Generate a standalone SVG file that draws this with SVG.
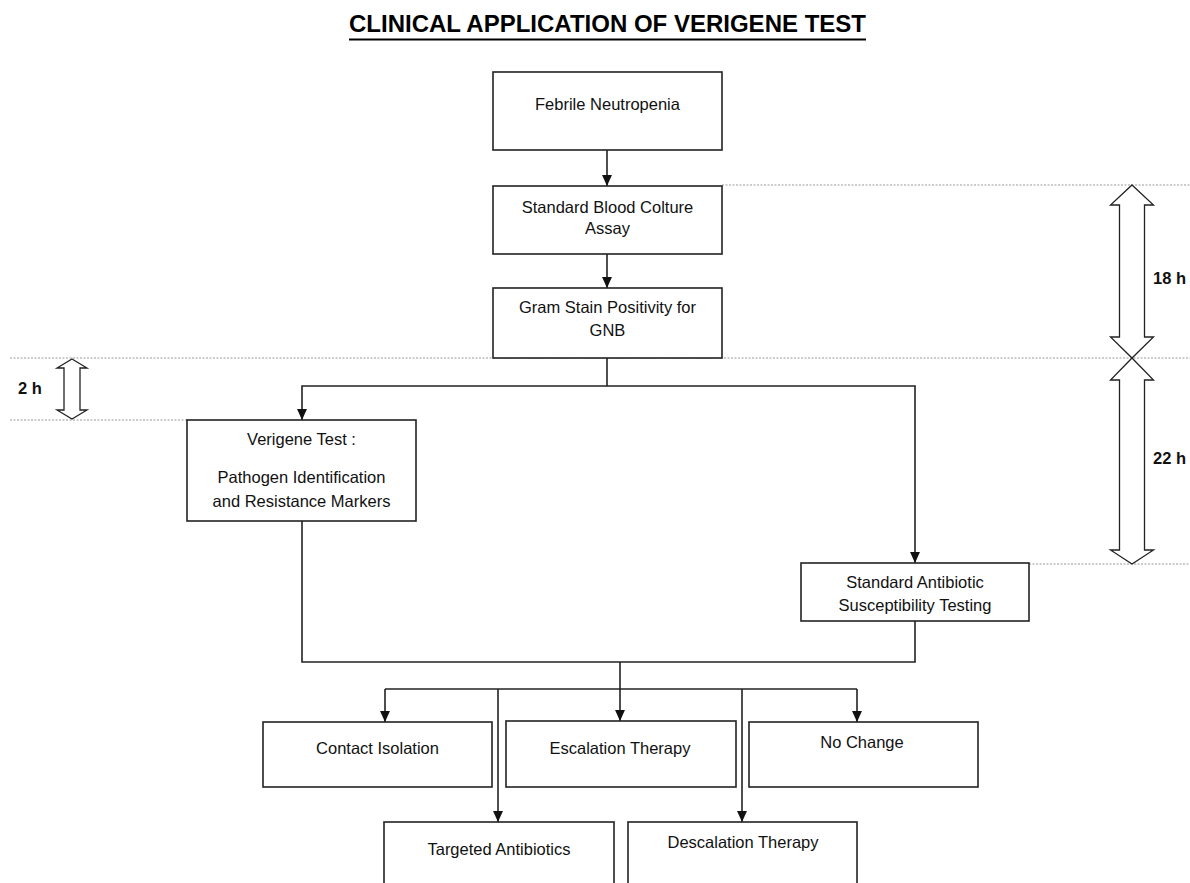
<svg xmlns="http://www.w3.org/2000/svg" width="1190" height="883" viewBox="0 0 1190 883">
<defs>
<style>
.box{fill:#fff;stroke:#222;stroke-width:1.6}
.t{font-family:"Liberation Sans",Arial,sans-serif;font-size:16.5px;fill:#111;text-anchor:middle}
.b{font-family:"Liberation Sans",Arial,sans-serif;font-size:16.5px;font-weight:bold;fill:#111;text-anchor:middle}
.ln{fill:none;stroke:#222;stroke-width:1.6}
.arr{fill:none;stroke:#222;stroke-width:1.6;marker-end:url(#ah)}
.dot{stroke:#9a9a9a;stroke-width:1.2;stroke-dasharray:2 1.5;fill:none}
.dbl{fill:#fff;stroke:#222;stroke-width:1.3;stroke-linejoin:miter}
</style>
<marker id="ah" markerWidth="11" markerHeight="11" viewBox="0 0 10 10" refX="10" refY="5" orient="auto" markerUnits="userSpaceOnUse">
<path d="M0,0.5 L10,5 L0,9.5 Z" fill="#111"/>
</marker>
</defs>
<rect width="1190" height="883" fill="#fff"/>

<g id="title">
<text x="607.5" y="32" font-family="'Liberation Sans',Arial,sans-serif" font-size="24" font-weight="bold" fill="#000" text-anchor="middle" textLength="517" lengthAdjust="spacingAndGlyphs">CLINICAL APPLICATION OF VERIGENE TEST</text>
<line x1="349" y1="39.5" x2="866" y2="39.5" stroke="#000" stroke-width="2"/>
</g>

<g id="guides">
<line class="dot" x1="722" y1="185" x2="1190" y2="185"/>
<line class="dot" x1="10" y1="358" x2="1190" y2="358"/>
<line class="dot" x1="10" y1="420" x2="187" y2="420"/>
<line class="dot" x1="1029" y1="564" x2="1190" y2="564"/>
</g>

<g id="time-2h">
<polygon class="dbl" points="72,359 87,368 80,368 80,410 87,410 72,419 57,410 64,410 64,368 57,368"/>
<text class="b" x="30" y="394">2 h</text>
</g>
<g id="time-18h">
<polygon class="dbl" points="1132,185 1153.5,205 1144.5,205 1144.5,337 1153.5,337 1132,358 1110.5,337 1119.5,337 1119.5,205 1110.5,205"/>
<text class="b" x="1169.5" y="284">18 h</text>
</g>
<g id="time-22h">
<polygon class="dbl" points="1132,358 1153.5,380 1144.5,380 1144.5,550 1153.5,550 1132,564 1110.5,550 1119.5,550 1119.5,380 1110.5,380"/>
<text class="b" x="1169.5" y="464">22 h</text>
</g>

<g id="connectors">
<line class="arr" x1="607" y1="150" x2="607" y2="186"/>
<line class="arr" x1="607" y1="254" x2="607" y2="288"/>
<polyline class="ln" points="607,358 607,386"/>
<polyline class="arr" points="607,386 302,386 302,420"/>
<polyline class="arr" points="607,386 915,386 915,563"/>
<polyline class="ln" points="302,521 302,662 915,662 915,621"/>
<line class="arr" x1="620" y1="662" x2="620" y2="721"/>
<line class="ln" x1="385" y1="689" x2="857" y2="689"/>
<polyline class="arr" points="385,689 385,722"/>
<polyline class="arr" points="857,689 857,722"/>
<polyline class="arr" points="498,689 498,822"/>
<polyline class="arr" points="742,689 742,822"/>
</g>

<g id="febrile">
<rect class="box" x="493" y="72" width="229" height="78"/>
<text class="t" x="607.5" y="110">Febrile Neutropenia</text>
</g>
<g id="blood-culture">
<rect class="box" x="493" y="186" width="229" height="68"/>
<text class="t" x="607.5" y="213">Standard Blood Colture</text>
<text class="t" x="607.5" y="234">Assay</text>
</g>
<g id="gram-stain">
<rect class="box" x="493" y="288" width="229" height="70"/>
<text class="t" x="607.5" y="313">Gram Stain Positivity for</text>
<text class="t" x="607.5" y="336">GNB</text>
</g>
<g id="verigene">
<rect class="box" x="187" y="420" width="229" height="101"/>
<text class="t" x="301.5" y="445">Verigene Test :</text>
<text class="t" x="301.5" y="483">Pathogen Identification</text>
<text class="t" x="301.5" y="507">and Resistance Markers</text>
</g>
<g id="susceptibility">
<rect class="box" x="801" y="563" width="228" height="58"/>
<text class="t" x="915" y="588">Standard Antibiotic</text>
<text class="t" x="915" y="611">Susceptibility Testing</text>
</g>
<g id="contact-isolation">
<rect class="box" x="263" y="722" width="229" height="65"/>
<text class="t" x="377.5" y="754">Contact Isolation</text>
</g>
<g id="escalation">
<rect class="box" x="506" y="721" width="230" height="66"/>
<text class="t" x="620" y="754">Escalation Therapy</text>
</g>
<g id="no-change">
<rect class="box" x="749" y="722" width="229" height="65"/>
<text class="t" x="862" y="748">No Change</text>
</g>
<g id="targeted">
<rect class="box" x="384" y="822" width="230" height="80"/>
<text class="t" x="499" y="855">Targeted Antibiotics</text>
</g>
<g id="descalation">
<rect class="box" x="628" y="822" width="229" height="80"/>
<text class="t" x="743" y="848">Descalation Therapy</text>
</g>
</svg>
